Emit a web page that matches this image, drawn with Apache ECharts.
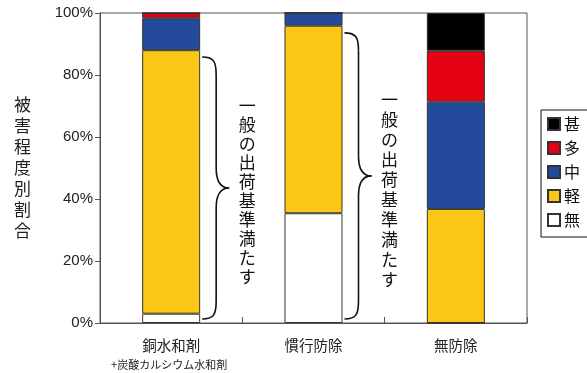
<!DOCTYPE html>
<html>
<head>
<meta charset="utf-8">
<script src="https://cdn.jsdelivr.net/npm/echarts@6/dist/echarts.min.js"></script>
<style>
  html, body { margin: 0; padding: 0; background: #fff; }
  #chart { width: 587px; height: 373px; }
</style>
</head>
<body>
<div id="chart"></div>
<script>
// Damage level share (%) by treatment, stacked bottom to top
const categories = ['銅水和剤', '慣行防除', '無防除'];
const categorySubLabels = ['+炭酸カルシウム水和剤', '', ''];
const levelNames = ['無', '軽', '中', '多', '甚'];
const noneVals = [3.0, 35.4, 0];
const lightVals = [85.0, 60.5, 36.8];
const midVals = [10.3, 4.1, 34.6];
const manyVals = [1.7, 0, 16.4];
const severeVals = [0, 0, 12.2];
const levelColors = ['#ffffff', '#fac814', '#244b9b', '#e60013', '#000000'];
const yTicks = [0, 20, 40, 60, 80, 100];

// Shipping-standard annotation: which bars, and the % range the brace spans
const noteText = '一般の出荷基準満たす';
const noteBars = [0, 1];
const braceTop = [85.8, 93.6];
const braceBottom = [1.3, 1.3];
const noteCenter = [42.6, 43.0];

const font = "'Liberation Sans', 'Noto Sans CJK JP', sans-serif";
const cjk = "'Noto Sans CJK JP', sans-serif";
const BAR_W = 58;

const chart = echarts.init(document.getElementById('chart'), null, { renderer: 'canvas' });

const valueSets = [noneVals, lightVals, midVals, manyVals, severeVals];
const series = levelNames.map((name, i) => ({
  name: name,
  type: 'bar',
  stack: 'total',
  barWidth: BAR_W,
  data: valueSets[i],
  itemStyle: {
    color: levelColors[i],
    borderColor: '#333',
    borderWidth: 1
  },
  emphasis: { disabled: true }
}));

chart.setOption({
  animation: false,
  backgroundColor: '#ffffff',
  textStyle: { fontFamily: font },
  grid: {
    left: 100, right: 60, top: 13, bottom: 50,
    show: true, borderColor: '#555', borderWidth: 1
  },
  legend: {
    orient: 'vertical',
    left: 541,
    top: 110,
    data: levelNames.slice().reverse(),
    icon: 'rect',
    itemWidth: 12,
    itemHeight: 12,
    itemGap: 8,
    padding: [6, 12, 9, 6],
    borderColor: '#111',
    borderWidth: 1,
    backgroundColor: '#fff',
    selectedMode: false,
    textStyle: { fontFamily: cjk, fontSize: 16, lineHeight: 16, color: '#111', padding: [0, 0, 0, -1] }
  },
  xAxis: {
    type: 'category',
    data: categories,
    axisLine: { lineStyle: { color: '#555', width: 1 } },
    axisTick: { show: true, inside: true, length: 6, lineStyle: { color: '#555' } },
    axisLabel: {
      margin: 13,
      interval: 0,
      formatter: function (value, idx) {
        const sub = categorySubLabels[idx];
        return sub ? '{a|' + value + '}\n{b|' + sub + '}' : '{a|' + value + '}\n{b| }';
      },
      rich: {
        a: { fontFamily: cjk, fontSize: 14.5, lineHeight: 19, color: '#222' },
        b: { fontFamily: cjk, fontSize: 11, lineHeight: 19, color: '#222', padding: [0, 4, 0, 0] }
      }
    }
  },
  yAxis: {
    type: 'value',
    min: 0,
    max: 100,
    interval: 20,
    name: '被\n害\n程\n度\n別\n割\n合',
    nameLocation: 'middle',
    nameRotate: 0,
    nameGap: 69,
    nameTextStyle: { fontFamily: cjk, fontSize: 17, lineHeight: 21, color: '#222', padding: [0, 0, 12, 0] },
    splitLine: { show: false },
    axisLine: { show: true, lineStyle: { color: '#555', width: 1 } },
    axisTick: { show: true, length: 5, lineStyle: { color: '#555' } },
    axisLabel: {
      margin: 7,
      fontSize: 15,
      color: '#222',
      customValues: yTicks,
      formatter: '{value}%'
    }
  },
  series: series
});

// Braces and vertical notes placed from the axes' own scales
function px(catIdx, value) {
  return chart.convertToPixel({ xAxisIndex: 0, yAxisIndex: 0 }, [catIdx, value]);
}
const strokeStyle = { fill: 'none', stroke: '#111', lineWidth: 1.6 };
function curve(x1, y1, cx1, cy1, cx2, cy2, x2, y2) {
  return {
    type: 'bezierCurve', silent: true, style: strokeStyle,
    shape: { x1: x1, y1: y1, cpx1: cx1, cpy1: cy1, cpx2: cx2, cpy2: cy2, x2: x2, y2: y2 }
  };
}
function seg(x1, y1, x2, y2) {
  return { type: 'line', silent: true, style: strokeStyle, shape: { x1: x1, y1: y1, x2: x2, y2: y2 } };
}
const graphics = [];
noteBars.forEach((cat, k) => {
  const top = px(cat, braceTop[k]);
  const bot = px(cat, braceBottom[k]);
  const barRight = top[0] + BAR_W / 2;
  const a = barRight + 2, b = barRight + 16, c = barRight + 29;
  const y1 = top[1], y2 = bot[1], m = (y1 + y2) / 2;
  graphics.push(
    curve(a, y1, b - 2, y1, b, y1 + 5, b, y1 + 18),
    seg(b, y1 + 18, b, m - 20),
    curve(b, m - 20, b, m - 6, c - 8, m, c, m),
    curve(c, m, c - 8, m, b, m + 6, b, m + 20),
    seg(b, m + 20, b, y2 - 18),
    curve(b, y2 - 18, b, y2 - 5, b - 2, y2, a, y2)
  );
  const center = px(cat, noteCenter[k]);
  graphics.push({
    type: 'text',
    x: barRight + 47,
    y: center[1],
    style: {
      text: noteText.split('').join('\n'),
      font: '17px ' + cjk,
      lineHeight: k === 0 ? 19 : 20,
      fill: '#111',
      align: 'center',
      verticalAlign: 'middle'
    },
    silent: true
  });
});
chart.setOption({ graphic: graphics });
</script>
</body>
</html>
